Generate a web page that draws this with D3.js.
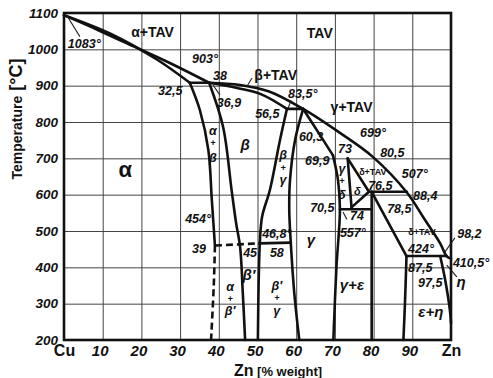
<!DOCTYPE html>
<html>
<head>
<meta charset="utf-8">
<script src="https://cdn.jsdelivr.net/npm/d3@7"></script>
<style>
  body { margin: 0; background: #fff; }
  text { font-family: "Liberation Sans", Arial, sans-serif; fill: #111; }
</style>
</head>
<body>
<div id="chart"></div>
<script>
// axis categories
const compTicks = [0, 10, 20, 30, 40, 50, 60, 70, 80, 90, 100];
const compTickLabels = ['Cu', '10', '20', '30', '40', '50', '60', '70', '80', '90', 'Zn'];
const tempTicks = [200, 300, 400, 500, 600, 700, 800, 900, 1000, 1100];

// phase boundaries, [wt% Zn, temperature °C]
const liquidusCu = [[0, 1094], [9, 1052], [18, 1008], [28, 959], [37.5, 908]];
const liquidusZn = [[37.5, 908], [45.5, 902], [53, 884], [61.8, 836], [71.3, 770], [79.8, 704], [88.6, 606], [93, 535], [97.2, 466], [98.9, 430], [100, 424]];
const alphaSolidus = [[0, 1094], [12, 1043], [24, 972], [32.5, 908]];
const alphaSolvus = [[32.5, 908], [35.1, 833], [37.3, 723], [38.2, 585], [39, 460]];
const alphaSolvusLow = [[39, 460], [38.7, 350], [38, 200]];
const betaSolidus = [[37.5, 908], [45, 893], [51, 876], [57.6, 836]];
const betaLeft = [[37.5, 908], [41.1, 787], [43.3, 613], [44.5, 520], [45.5, 457], [46.2, 330], [46.8, 200]];
const betaRight = [[57.6, 836], [55.8, 750], [53.2, 613], [51.2, 540], [50.6, 467], [50.1, 200]];
const gammaLeft = [[61.8, 836], [59.7, 750], [58.4, 640], [58.2, 560], [58.6, 468], [59.5, 330], [60.8, 200]];
const gammaSolidus = [[61.8, 836], [65.5, 775], [69.5, 708]];
const gammaRight = [[69.5, 708], [70.8, 640], [71.3, 560], [70.4, 400], [69.6, 200]];
const deltaLeft = [[73.3, 700], [74.3, 565]];
const deltaRight = [[73.3, 700], [78.8, 608]];
const deltaLow = [[74.3, 565], [78.8, 608]];
const epsLeft = [[79.5, 608], [79.5, 200]];
const epsDiag = [[79.5, 608], [88.5, 431]];
const epsRight = [[88.5, 431], [88.1, 300], [87.7, 200]];
const etaLine = [[97.2, 431], [98.5, 365], [99.8, 274], [100, 246]];
const iso903 = [[32.5, 908], [37.5, 908]];
const iso835 = [[57.6, 836], [61.8, 836]];
const iso597 = [[78.8, 608], [88.6, 608]];
const iso557 = [[71.3, 560], [79.5, 560]];
const iso424 = [[88.5, 431], [98.9, 431]];
const iso468 = [[50.5, 466], [58.6, 468]];
const iso454 = [[39, 460], [50.5, 466]];

// leader lines
const leaders = [
  [[0.7, 1094], [4.1, 1035]],
  [[38.5, 902], [40.3, 874]],
  [[48.6, 921], [47.3, 899]],
  [[58.7, 860], [57.9, 838]],
  [[101, 481], [98.4, 442]],
  [[98.9, 406], [101.5, 374]],
  [[72.1, 552], [73.1, 532]]
];

// numeric annotations [text, wt% Zn, °C]
const numLabels = [
  ['1083°', 1, 1004], ['903°', 33.1, 962], ['38', 38.5, 916], ['32,5', 24.3, 874],
  ['36,9', 39.5, 841], ['83,5°', 57.9, 866], ['56,5', 49.4, 811], ['60,3', 60.7, 748],
  ['699°', 76.5, 759], ['69,9', 62.3, 682], ['73', 70.8, 715], ['80,5', 81.7, 704],
  ['507°', 87.3, 646], ['76,5', 78.6, 614], ['88,4', 90.2, 585], ['70,5', 63.6, 552],
  ['74', 73.9, 530], ['78,5', 83.5, 550], ['557°', 71.3, 483], ['454°', 31.3, 522],
  ['46,8°', 51.2, 481], ['39', 33.1, 439], ['45', 46.3, 428], ['58', 53.2, 428],
  ['424°', 88.9, 439], ['98,2', 101.6, 481], ['410,5°', 100.5, 401], ['87,5', 88.9, 387],
  ['97,5', 91.5, 346]
];

// phase field names [text, wt% Zn, °C]
const phaseLabels = [
  ['α+TAV', 22.9, 1034], ['TAV', 66.1, 1031], ['β+TAV', 54.7, 916], ['γ+TAV', 74.3, 828],
  ['β', 46.8, 723], ['γ', 63.8, 461], ['β\u2032', 47.8, 365], ['γ+ε', 74.4, 338],
  ['ε+η', 94.8, 263], ['η', 102.6, 346]
];
// vertically stacked names: wt% Zn, then [part, °C]
const stackLabels = [
  [38.5, [['α', 764], ['+', 733], ['β', 690]]],
  [56.6, [['β', 697], ['+', 666], ['γ', 628]]],
  [71.8, [['γ', 660], ['+', 628], ['δ', 588]]],
  [42.9, [['α', 336], ['+', 304], ['β\u2032', 268]]],
  [55, [['β\u2032', 338], ['+', 307], ['γ', 270]]]
];
const smallLabels = [['δ+TAV', 79.8, 653], ['δ+TAV', 92.5, 489]];
const narrowLabels = [['δ', 75.8, 600]];
const bigLabels = [['α', 15.8, 649]];

const W = 493, H = 378;
const svg = d3.select('#chart').append('svg').attr('width', W).attr('height', H);
svg.append('rect').attr('width', W).attr('height', H).attr('fill', '#fff');

const x = d3.scaleLinear().domain([0, 100]).range([64, 451]);
const y = d3.scaleLinear().domain([200, 1100]).range([340, 13]);

// grid
svg.append('g')
  .attr('transform', 'translate(0,340)')
  .call(d3.axisBottom(x).tickValues(compTicks).tickSize(-327).tickFormat(''))
  .call(g => g.select('.domain').remove())
  .call(g => g.selectAll('.tick line').attr('stroke', '#444').attr('stroke-width', 1));
svg.append('g')
  .attr('transform', 'translate(64,0)')
  .call(d3.axisLeft(y).tickValues(tempTicks).tickSize(-387).tickFormat(''))
  .call(g => g.select('.domain').remove())
  .call(g => g.selectAll('.tick line').attr('stroke', '#444').attr('stroke-width', 1));

// tick labels
svg.append('g')
  .attr('transform', 'translate(0,340)')
  .call(d3.axisBottom(x).tickValues(compTicks).tickSize(0).tickPadding(5)
    .tickFormat((d, i) => compTickLabels[i]))
  .call(g => g.select('.domain').remove())
  .call(g => g.selectAll('.tick text')
    .attr('fill', '#111')
    .attr('dx', (d, i) => (i === 0 || i === 10) ? 0 : -3)
    .style('font-family', '"Liberation Sans", Arial, sans-serif')
    .style('font-weight', 'bold')
    .style('font-style', (d, i) => (i === 0 || i === 10) ? 'normal' : 'italic')
    .style('font-size', (d, i) => (i === 0 || i === 10) ? '16px' : '15px'));
svg.append('g')
  .attr('transform', 'translate(64,0)')
  .call(d3.axisLeft(y).tickValues(tempTicks).tickSize(0).tickPadding(6).tickFormat(d3.format('d')))
  .call(g => g.select('.domain').remove())
  .call(g => g.selectAll('.tick text')
    .attr('fill', '#111')
    .style('font-family', '"Liberation Sans", Arial, sans-serif')
    .style('font-weight', 'bold')
    .style('font-style', 'italic')
    .style('font-size', '13.5px'));

// axis titles
const xt = svg.append('text').attr('x', 278).attr('y', 376).attr('text-anchor', 'middle')
  .style('font-weight', 'bold');
xt.append('tspan').text('Zn').style('font-size', '16px');
xt.append('tspan').text(' [% weight]').style('font-size', '13px');
const yt = svg.append('text').attr('transform', 'translate(22,119) rotate(-90)')
  .attr('text-anchor', 'middle').style('font-weight', 'bold');
yt.append('tspan').text('Temperature').style('font-size', '14px');
yt.append('tspan').text(' [°C]').style('font-size', '18px');

// phase lines
const line = d3.line().x(d => x(d[0])).y(d => y(d[1])).curve(d3.curveCatmullRom.alpha(0.5));
const solid = [liquidusCu, liquidusZn, alphaSolidus, alphaSolvus, betaSolidus, betaLeft, betaRight,
  gammaLeft, gammaSolidus, gammaRight, deltaLeft, deltaRight, deltaLow, epsLeft, epsDiag, epsRight,
  etaLine, iso903, iso835, iso597, iso557, iso424, iso468];
const dashed = [alphaSolvusLow, iso454];

svg.append('g').selectAll('path').data(solid).enter().append('path')
  .attr('d', line).attr('fill', 'none').attr('stroke', '#111')
  .attr('stroke-width', 2.6).attr('stroke-linejoin', 'round').attr('stroke-linecap', 'round');
svg.append('g').selectAll('path').data(dashed).enter().append('path')
  .attr('d', line).attr('fill', 'none').attr('stroke', '#111')
  .attr('stroke-width', 2.6).attr('stroke-dasharray', '7,4');
svg.append('g').selectAll('path').data(leaders).enter().append('path')
  .attr('d', d3.line().x(d => x(d[0])).y(d => y(d[1])))
  .attr('fill', 'none').attr('stroke', '#222').attr('stroke-width', 1.1);

// frame
svg.append('rect').attr('x', 64).attr('y', 13).attr('width', 387).attr('height', 327)
  .attr('fill', 'none').attr('stroke', '#111').attr('stroke-width', 2.6);

// labels
const lab = svg.append('g').style('font-weight', 'bold');
lab.selectAll('.num').data(numLabels).enter().append('text').attr('class', 'num')
  .attr('x', d => x(d[1])).attr('y', d => y(d[2])).text(d => d[0])
  .style('font-style', 'italic').style('font-size', '12.5px');
lab.selectAll('.ph').data(phaseLabels).enter().append('text').attr('class', 'ph')
  .attr('x', d => x(d[1])).attr('y', d => y(d[2])).attr('text-anchor', 'middle').text(d => d[0])
  .style('font-style', d => d[0].includes('TAV') ? 'normal' : 'italic')
  .style('font-size', d => d[0].includes('TAV') ? '14px' : '15px');
lab.selectAll('.st').data(stackLabels).enter().append('text').attr('class', 'st')
  .attr('text-anchor', 'middle').style('font-style', 'italic')
  .each(function (d) {
    d3.select(this).selectAll('tspan').data(d[1]).enter().append('tspan')
      .attr('x', x(d[0])).attr('y', p => y(p[1])).text(p => p[0])
      .style('font-size', p => p[0] === '+' ? '9px' : '12.5px');
  });
lab.selectAll('.nr').data(narrowLabels).enter().append('text').attr('class', 'nr')
  .attr('x', d => x(d[1])).attr('y', d => y(d[2])).attr('text-anchor', 'middle').text(d => d[0])
  .style('font-style', 'italic').style('font-size', '11px');
lab.selectAll('.sm').data(smallLabels).enter().append('text').attr('class', 'sm')
  .attr('x', d => x(d[1])).attr('y', d => y(d[2])).attr('text-anchor', 'middle').text(d => d[0])
  .style('font-size', '9px');
lab.selectAll('.big').data(bigLabels).enter().append('text').attr('class', 'big')
  .attr('x', d => x(d[1])).attr('y', d => y(d[2])).attr('text-anchor', 'middle').text(d => d[0])
  .style('font-size', '22px');
</script>
</body>
</html>
